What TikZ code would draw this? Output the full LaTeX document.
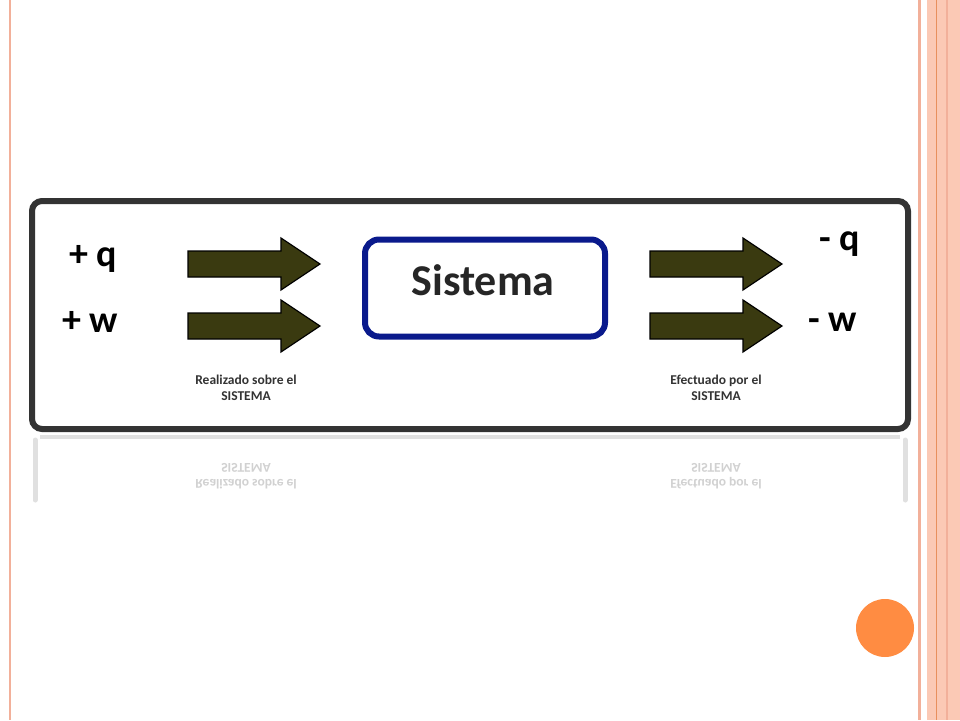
\documentclass[tikz,border=0pt]{standalone}
\usepackage{fontspec}
\setmainfont{Carlito}
\definecolor{olive}{HTML}{3A3A10}
\definecolor{sysblue}{HTML}{0A1A8C}
\definecolor{salmon}{HTML}{FBC9B5}
\definecolor{salmonline}{HTML}{F2B09A}
\definecolor{orangeline}{HTML}{E8905E}
\definecolor{dot}{HTML}{FF8C42}
\tikzset{
  fatarrow/.style={fill=olive,draw=black,line width=1.2pt,line join=miter},
  biglabel/.style={font=\fontsize{38}{40}\selectfont\bfseries,text=black},
  smalllabel/.style={font=\fontsize{13.5}{16}\selectfont\bfseries,align=center,text=black!80},
  refltext/.style={font=\fontsize{13.5}{16}\selectfont\bfseries,align=center,text=black!18,yscale=-1}
}
\begin{document}
\begin{tikzpicture}[x=1pt,y=-1pt]
\useasboundingbox (0,0) rectangle (960,720);
\fill[white] (0,0) rectangle (960,720);
% slide decorations
\fill[salmonline] (9,0) rectangle (11,720);
\fill[salmonline] (918,0) rectangle (921,720);
\fill[salmon] (927,0) rectangle (960,720);
\fill[orangeline] (935.5,0) rectangle (937,720);
\fill[salmonline] (946,0) rectangle (948,720);
\fill[dot] (885,628) circle (29);
% reflection
\draw[black!12,line width=5pt,line cap=round] (35,440) -- (35,500);
\draw[black!12,line width=5pt,line cap=round] (905,440) -- (905,500);
\draw[black!12,line width=4pt] (40,437) -- (900,437);
\node[refltext] (r1) at (246,476) {Realizado sobre el\\SISTEMA};
\node[refltext] (r2) at (716,476) {Efectuado por el\\SISTEMA};
% main frame
\draw[black!80,line width=6pt,rounded corners=10pt,fill=white] (32,201) rectangle (908,429);
% system
\node[draw=sysblue,line width=6pt,rounded corners=14pt,minimum width=240pt,minimum height=97pt] (sys) at (485,288) {};
\node[font=\fontsize{44}{46}\selectfont\bfseries,text=black!85] (systext) at (483,280) {Sistema};
% arrows
\foreach \x/\y in {188/264,188/326,650/264,650/326}{
  \draw[fatarrow] (\x,\y-13) -- (\x+93,\y-13) -- (\x+93,\y-26) -- (\x+132,\y) -- (\x+93,\y+26) -- (\x+93,\y+13) -- (\x,\y+13) -- cycle;
}
% labels
\node[biglabel] (pq) at (93,259) {+ q};
\node[biglabel] (pw) at (90,322) {+ w};
\node[biglabel] (mq) at (840,244) {- q};
\node[biglabel] (mw) at (833,322) {- w};
\node[smalllabel] (l1) at (246,388) {Realizado sobre el\\SISTEMA};
\node[smalllabel] (l2) at (716,388) {Efectuado por el\\SISTEMA};
\end{tikzpicture}
\end{document}
